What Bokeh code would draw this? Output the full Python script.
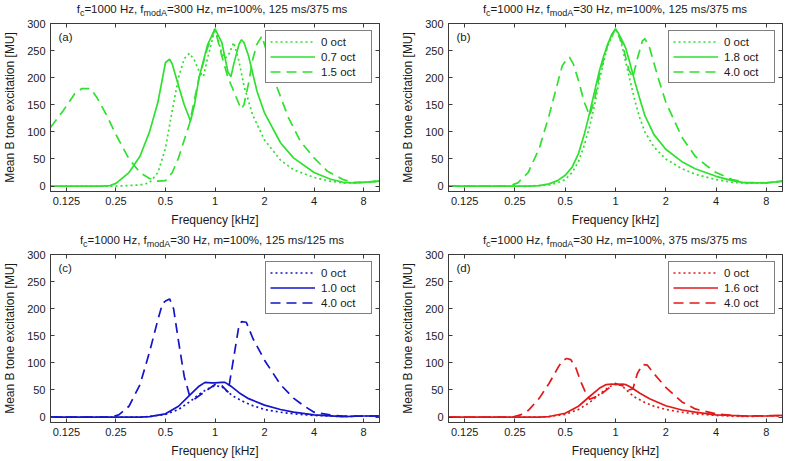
from bokeh.plotting import figure
from bokeh.models import (Range1d, FixedTicker, LinearAxis, LogAxis, Legend,
                          LegendItem, Label, Div)
from bokeh.layouts import row, column
from bokeh.embed import file_html
from bokeh.resources import INLINE

FONT = "Liberation Sans"
TXT = "#1a1a1a"
AXC = "#3a3a3a"

# ---------------- data (frequency in kHz, excitation in MU) ----------------
XTICKS = [0.125, 0.25, 0.5, 1, 2, 4, 8]
XTICK_LABELS = ["0.125", "0.25", "0.5", "1", "2", "4", "8"]
YTICKS = [0, 50, 100, 150, 200, 250, 300]
X_RANGE = (0.1, 10)
Y_RANGE = (-10, 300)

PANEL_LETTERS = ["(a)", "(b)", "(c)", "(d)"]
FMOD = ["300 Hz", "30 Hz", "30 Hz", "30 Hz"]
DURATIONS = ["125 ms/375 ms", "125 ms/375 ms", "125 ms/125 ms", "375 ms/375 ms"]
LEGENDS = [["0 oct", "0.7 oct", "1.5 oct"],
           ["0 oct", "1.8 oct", "4.0 oct"],
           ["0 oct", "1.0 oct", "4.0 oct"],
           ["0 oct", "1.6 oct", "4.0 oct"]]
COLORS = ["#2fe02f", "#2fe02f", "#1414c8", "#e01a1a"]

# panel (a)
a0_f = [0.1, 0.2, 0.25, 0.3, 0.35, 0.4, 0.45, 0.5, 0.55, 0.6, 0.65, 0.7, 0.75, 0.8, 0.85, 0.9,
        1.0, 1.1, 1.15, 1.2, 1.3, 1.4, 1.5, 1.7, 2.0, 2.5, 3.0, 4.0, 5.0, 6.0, 7.0, 8.0, 10.0]
a0_v = [0, 0, 0, 1, 2, 6, 25, 70, 140, 200, 235, 245, 232, 212, 202, 235,
        290, 245, 236, 240, 265, 230, 185, 130, 85, 48, 30, 16, 9, 6, 6, 7, 9]
a1_f = [0.1, 0.2, 0.23, 0.25, 0.3, 0.35, 0.4, 0.45, 0.5, 0.53, 0.55, 0.6, 0.65, 0.71, 0.75, 0.8,
        0.9, 1.0, 1.1, 1.2, 1.25, 1.3, 1.4, 1.45, 1.5, 1.6, 1.8, 2.0, 2.5, 3.0, 4.0, 5.0, 6.0,
        7.0, 8.0, 10.0]
a1_v = [0, 0, 1, 5, 25, 55, 100, 155, 228, 234, 225, 185, 150, 120, 150, 200,
        260, 290, 265, 210, 202, 225, 262, 270, 265, 240, 175, 135, 80, 52, 25, 13, 7,
        6, 7, 9]
a2_f = [0.1, 0.12, 0.14, 0.155, 0.175, 0.19, 0.22, 0.25, 0.3, 0.35, 0.4, 0.45, 0.5, 0.55, 0.6,
        0.7, 0.8, 0.9, 1.0, 1.1, 1.2, 1.3, 1.44, 1.5, 1.6, 1.7, 1.8, 1.93, 2.1, 2.3, 2.8, 3.3,
        4.0, 4.8, 6.0, 7.0, 8.0, 10.0]
a2_v = [108, 140, 170, 180, 180, 165, 130, 95, 50, 25, 14, 9, 10, 25, 52,
        115, 200, 255, 290, 240, 200, 175, 142, 150, 190, 235, 262, 277, 240, 194, 126, 83,
        52, 28, 12, 7, 7, 9]

# panel (b)
b0_f = [0.1, 0.3, 0.4, 0.45, 0.5, 0.55, 0.6, 0.65, 0.7, 0.75, 0.8, 0.85, 0.9, 1.0, 1.05, 1.1,
        1.2, 1.3, 1.4, 1.5, 1.7, 2.0, 2.5, 3.0, 4.0, 5.0, 6.0, 8.0, 10.0]
b0_v = [0, 0, 2, 6, 12, 25, 45, 75, 110, 150, 195, 230, 260, 290, 278, 255,
        205, 160, 125, 100, 72, 50, 32, 22, 12, 7, 5, 6, 9]
b1_f = [0.1, 0.3, 0.35, 0.4, 0.45, 0.5, 0.55, 0.6, 0.65, 0.7, 0.75, 0.8, 0.85, 0.9, 0.95, 1.0,
        1.05, 1.1, 1.15, 1.2, 1.3, 1.4, 1.5, 1.7, 2.0, 2.5, 3.0, 4.0, 5.0, 6.0, 8.0, 10.0]
b1_v = [0, 0, 1, 4, 10, 20, 35, 60, 95, 135, 175, 212, 240, 262, 280, 290,
        280, 268, 255, 235, 195, 160, 130, 95, 68, 45, 32, 18, 10, 6, 6, 9]
b2_f = [0.1, 0.22, 0.24, 0.26, 0.3, 0.35, 0.4, 0.45, 0.48, 0.5, 0.53, 0.56, 0.6, 0.65, 0.7,
        0.75, 0.8, 0.9, 1.0, 1.1, 1.2, 1.27, 1.35, 1.45, 1.5, 1.6, 1.8, 2.0, 2.5, 3.0, 3.5,
        4.0, 5.0, 6.0, 8.0, 10.0]
b2_v = [0, 0, 2, 6, 25, 70, 130, 190, 222, 230, 238, 225, 195, 155, 130,
        160, 205, 262, 290, 262, 215, 200, 235, 268, 272, 255, 200, 155, 90, 55, 38,
        25, 12, 7, 6, 9]

# panel (c)
c0_f = [0.1, 0.35, 0.4, 0.5, 0.6, 0.7, 0.8, 0.9, 1.0, 1.1, 1.2, 1.3, 1.5, 1.7, 2.0, 2.5, 3.0,
        4.0, 6.0, 8.0, 10.0]
c0_v = [0, 0, 1, 5, 14, 28, 42, 52, 58, 56, 46, 38, 28, 21, 14, 9, 6,
        3, 1, 2, 2]
c1_f = [0.1, 0.35, 0.4, 0.5, 0.6, 0.7, 0.8, 0.87, 0.95, 1.0, 1.1, 1.15, 1.25, 1.4, 1.6, 2.0,
        2.5, 3.0, 4.0, 6.0, 8.0, 10.0]
c1_v = [0, 0, 1, 6, 20, 40, 57, 64, 63, 63, 64, 64, 57, 45, 34, 22,
        14, 9, 4, 1, 2, 2]
c2_f = [0.1, 0.23, 0.26, 0.3, 0.35, 0.4, 0.45, 0.48, 0.5, 0.53, 0.56, 0.6, 0.65, 0.7, 0.75,
        0.85, 1.0, 1.1, 1.2, 1.3, 1.4, 1.45, 1.55, 1.7, 2.0, 2.5, 3.0, 3.5, 4.0, 5.0, 6.0, 10.0]
c2_v = [0, 0, 4, 20, 60, 120, 180, 210, 214, 218, 200, 140, 75, 40, 33,
        45, 60, 58, 46, 110, 170, 176, 175, 145, 105, 60, 35, 20, 9, 4, 2, 2]

# panel (d)
d0_f = [0.1, 0.35, 0.4, 0.5, 0.6, 0.7, 0.8, 0.9, 1.0, 1.1, 1.2, 1.3, 1.5, 1.7, 2.0, 2.5, 3.0,
        4.0, 6.0, 8.0, 10.0]
d0_v = [0, 0, 1, 5, 14, 27, 42, 54, 62, 57, 46, 37, 27, 20, 14, 9, 6,
        3, 1, 2, 2]
d1_f = [0.1, 0.35, 0.4, 0.5, 0.6, 0.7, 0.8, 0.88, 0.95, 1.0, 1.1, 1.15, 1.25, 1.4, 1.6, 2.0,
        2.5, 3.0, 4.0, 6.0, 8.0, 10.0]
d1_v = [0, 0, 1, 7, 20, 38, 53, 60, 61, 60, 61, 60, 54, 44, 34, 21,
        13, 9, 4, 2, 2, 3]
d2_f = [0.1, 0.24, 0.27, 0.3, 0.35, 0.4, 0.45, 0.48, 0.51, 0.54, 0.58, 0.62, 0.67, 0.7, 0.8,
        0.9, 1.0, 1.1, 1.2, 1.27, 1.35, 1.45, 1.55, 1.7, 2.0, 2.5, 3.0, 4.0, 5.0, 6.0, 10.0]
d2_v = [0, 0, 4, 12, 35, 62, 90, 104, 108, 106, 90, 65, 42, 33, 40,
        52, 62, 58, 50, 52, 80, 97, 96, 80, 55, 28, 15, 6, 3, 2, 3]

SERIES = [[(a0_f, a0_v), (a1_f, a1_v), (a2_f, a2_v)],
          [(b0_f, b0_v), (b1_f, b1_v), (b2_f, b2_v)],
          [(c0_f, c0_v), (c1_f, c1_v), (c2_f, c2_v)],
          [(d0_f, d0_v), (d1_f, d1_v), (d2_f, d2_v)]]
DASHES = ["2 3", "solid", "10 6"]


def make_title(i, width, height, bl, br, pad_top):
    sub = ('<span style="font-size:9px;position:relative;top:3px;">%s</span>')
    html = ("f" + sub % "c" + "=1000 Hz, f" + sub % "modA" +
            "=%s, m=100%%, %s" % (FMOD[i], DURATIONS[i]))
    fw = width - bl - br
    box = ('<div style="width:%dpx;margin-left:%dpx;padding-top:%dpx;text-align:center;'
           'font-family:\'%s\';font-size:11.5px;line-height:12px;color:%s;'
           'white-space:nowrap;">%s</div>' % (fw, bl, pad_top, FONT, TXT, html))
    return Div(text=box, width=width, height=height,
               styles={"margin": "0", "padding": "0", "overflow": "visible"})


def make_panel(i, width, height, bl, br, bt, bb):
    p = figure(width=width, height=height, x_axis_type="log",
               x_range=Range1d(*X_RANGE), y_range=Range1d(*Y_RANGE),
               output_backend="svg", toolbar_location=None,
               min_border_left=bl, min_border_right=br, min_border_top=bt,
               min_border_bottom=bb, background_fill_color="white",
               border_fill_color="white")
    p.xgrid.visible = False
    p.ygrid.visible = False
    p.outline_line_color = AXC
    p.outline_line_width = 1
    p.outline_line_alpha = 1

    p.xaxis.axis_label = "Frequency [kHz]"
    p.yaxis.axis_label = "Mean B tone excitation [MU]"
    overrides = {t: l for t, l in zip(XTICKS, XTICK_LABELS)}
    for ax in p.xaxis:
        ax.ticker = FixedTicker(ticks=XTICKS, minor_ticks=[])
        ax.major_label_overrides = overrides
    for ax in p.yaxis:
        ax.ticker = FixedTicker(ticks=YTICKS, minor_ticks=[])

    top = LogAxis(ticker=FixedTicker(ticks=XTICKS, minor_ticks=[]))
    right = LinearAxis(ticker=FixedTicker(ticks=YTICKS, minor_ticks=[]))
    p.add_layout(top, "above")
    p.add_layout(right, "right")

    for ax in p.axis:
        ax.axis_line_color = AXC
        ax.major_tick_line_color = AXC
        ax.major_tick_in = 4
        ax.major_tick_out = 0
        ax.minor_tick_line_color = None
        ax.major_label_text_font = FONT
        ax.major_label_text_color = TXT
        ax.major_label_text_font_size = "11px"
        ax.axis_label_text_font = FONT
        ax.axis_label_text_font_style = "normal"
        ax.axis_label_text_color = TXT
        ax.axis_label_text_font_size = "12px"
        ax.major_label_standoff = 5
    for ax in [top, right]:
        ax.major_label_text_font_size = "1px"
        ax.major_label_text_color = None
        ax.major_label_text_alpha = 0
        ax.major_label_standoff = 0
    p.xaxis[0].axis_label_standoff = 2
    p.yaxis[0].axis_label_standoff = 7

    items = []
    for (fx, fy), dash, lab in zip(SERIES[i], DASHES, LEGENDS[i]):
        r = p.line(x=fx, y=fy, line_color=COLORS[i], line_width=1.7, line_dash=dash)
        items.append(LegendItem(label=lab, renderers=[r]))
    leg = Legend(items=items, location="top_right", border_line_color="black",
                 border_line_width=1, background_fill_color="white",
                 background_fill_alpha=1, label_text_font=FONT,
                 label_text_font_size="11.5px", label_text_color=TXT,
                 glyph_width=45, glyph_height=13, label_height=13, label_width=46,
                 label_standoff=6, padding=4, spacing=2, margin=7)
    p.add_layout(leg)

    p.add_layout(Label(x=X_RANGE[0], y=Y_RANGE[1], x_offset=8, y_offset=-13,
                       text=PANEL_LETTERS[i], text_font=FONT, text_font_size="11.5px",
                       text_color=TXT, text_align="left", text_baseline="middle"))
    return p


# geometry (page origin at the window corner): frames at x 45..379 / 448..782
LW, RW = 393, 393
L_BL, L_BR = 45, 14
R_BL, R_BR = 55, 4

ta = make_title(0, LW, 16, L_BL, L_BR, 3)
tb = make_title(1, RW, 16, R_BL, R_BR, 3)
tc = make_title(2, LW, 17, L_BL, L_BR, 4)
td = make_title(3, RW, 17, R_BL, R_BR, 4)

pa = make_panel(0, LW, 214, L_BL, L_BR, 7, 39)
pb = make_panel(1, RW, 214, R_BL, R_BR, 7, 39)
pc = make_panel(2, LW, 213, L_BL, L_BR, 7, 38)
pd = make_panel(3, RW, 213, R_BL, R_BR, 7, 38)

layout = column(row(column(ta, pa), column(tb, pb)),
                row(column(tc, pc), column(td, pd)))

with open("out.html", "w") as fh:
    fh.write(file_html(layout, INLINE))
